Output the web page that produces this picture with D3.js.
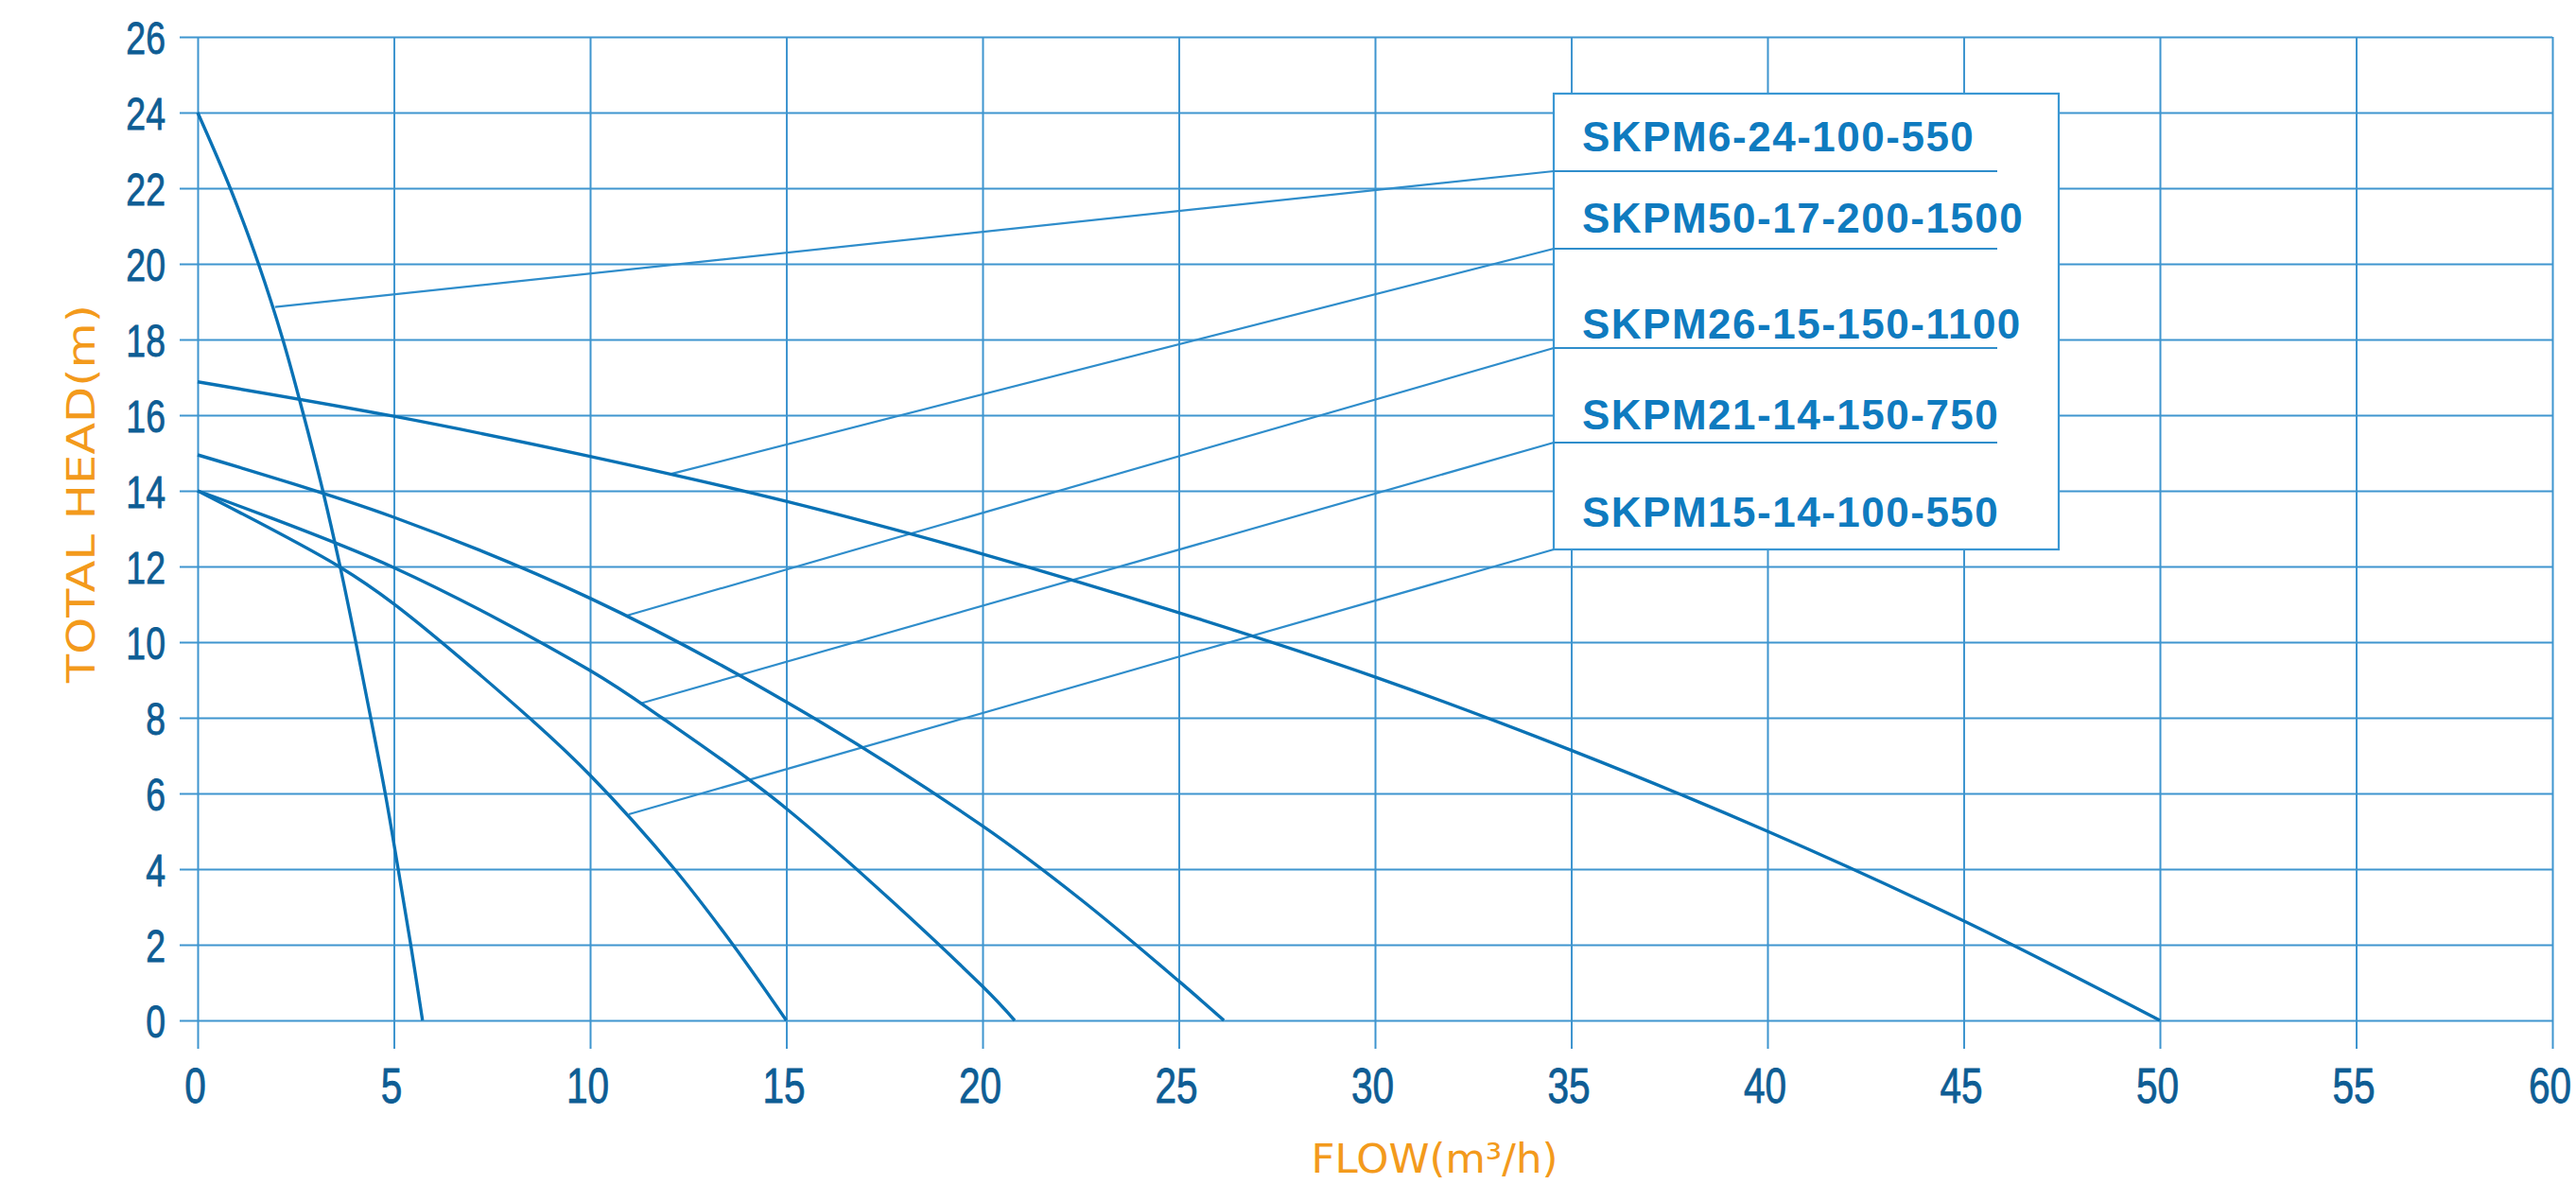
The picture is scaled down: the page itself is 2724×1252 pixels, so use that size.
<!DOCTYPE html>
<html>
<head>
<meta charset="utf-8">
<script src="https://cdn.jsdelivr.net/npm/d3@7"></script>
<style>
  html, body { margin: 0; padding: 0; background: #fff; }
  svg { display: block; }
</style>
</head>
<body>
<script>
// pump curves: [flow m3/h, head m]
var skpm6 = [[0, 24], [0.83, 22], [1.55, 20], [2.17, 18], [2.7, 16], [3.19, 14], [3.63, 12], [4.03, 10], [4.41, 8], [4.78, 6], [5.11, 4], [5.43, 2], [5.73, 0]];
var skpm50 = [[0, 16.88], [5, 15.97], [10, 14.91], [15, 13.72], [20, 12.33], [25, 10.78], [30, 9.08], [35, 7.14], [40, 5.0], [45, 2.63], [50, 0]];
var skpm26 = [[0, 14.95], [5, 13.3], [10, 11.16], [15, 8.42], [20, 5.14], [22.5, 3.2], [25, 1.04], [26.15, 0]];
var skpm21 = [[0, 14], [5, 11.97], [10, 9.25], [11.83, 8], [15, 5.6], [20, 0.9], [20.82, 0]];
var skpm15 = [[0, 14], [3.6, 12], [5, 11.01], [8.45, 8], [10, 6.48], [12.15, 4], [13.64, 2], [15, 0]];

var seriesNames = ['SKPM6-24-100-550', 'SKPM50-17-200-1500', 'SKPM26-15-150-1100', 'SKPM21-14-150-750', 'SKPM15-14-100-550'];
var seriesData = [skpm6, skpm50, skpm26, skpm21, skpm15];
// where each label's leader line touches its curve
var leaderStarts = [[1.97, 18.86], [12.04, 14.44], [10.93, 10.7], [11.29, 8.38], [10.99, 5.45]];

var xTicks = [0, 5, 10, 15, 20, 25, 30, 35, 40, 45, 50, 55, 60];
var yTicks = [0, 2, 4, 6, 8, 10, 12, 14, 16, 18, 20, 22, 24, 26];
var xTitle = 'FLOW(m³/h)';
var yTitle = 'TOTAL HEAD(m)';

(function () {
  var W = 2724, H = 1252;
  var pLeft = 209, pRight = 2699, pTop = 39, pBottom = 1079;
  var squeeze = 0.78; // tick font in the picture is a narrow face

  var gridColor = '#3f95cf';
  var curveColor = '#0a72b5';
  var tickColor = '#0e5d94';
  var orange = '#f39a1c';

  var svg = d3.select('body').append('svg').attr('width', W).attr('height', H);

  var x = d3.scaleLinear().domain([0, 60]).range([pLeft, pRight]);
  var y = d3.scaleLinear().domain([0, 26]).range([pBottom, pTop]);

  // vertical grid + x labels
  var xAxis = svg.append('g')
    .attr('transform', 'translate(0,' + (pBottom + 30) + ')')
    .call(d3.axisBottom(x).tickValues(xTicks).tickSize(-(pBottom + 30 - pTop)).tickPadding(0));
  xAxis.select('.domain').remove();
  xAxis.selectAll('line').attr('stroke', gridColor).attr('stroke-width', 2);
  xAxis.selectAll('text')
    .attr('y', 57).attr('dy', null).attr('x', -3 / squeeze)
    .attr('transform', 'scale(' + squeeze + ',1)')
    .attr('fill', tickColor)
    .attr('stroke', tickColor).attr('stroke-width', 0.8)
    .style('font-family', '"Liberation Sans", Arial, sans-serif')
    .style('font-size', '52px');

  // horizontal grid + y labels
  var yAxis = svg.append('g')
    .attr('transform', 'translate(190,0)')
    .call(d3.axisLeft(y).tickValues(yTicks).tickSize(-(pRight - 190)).tickPadding(15));
  yAxis.select('.domain').remove();
  yAxis.selectAll('line').attr('stroke', gridColor).attr('stroke-width', 2.2);
  yAxis.selectAll('text')
    .attr('x', -15 / squeeze)
    .attr('dy', '0.36em')
    .attr('transform', 'scale(' + squeeze + ',1)')
    .attr('fill', tickColor)
    .attr('stroke', tickColor).attr('stroke-width', 0.8)
    .style('font-family', '"Liberation Sans", Arial, sans-serif')
    .style('font-size', '48px');

  // legend box (drawn over the grid)
  var boxX = 1643, boxY = 99, boxW = 534, boxH = 482;
  var underlineY = [181, 263, 368, 468, 581];
  var labelY = [160, 246, 358, 454, 557];

  svg.append('rect')
    .attr('x', boxX).attr('y', boxY).attr('width', boxW).attr('height', boxH)
    .attr('fill', '#fff').attr('stroke', '#3a97d3').attr('stroke-width', 2.2);

  // leader lines from curve to label
  svg.selectAll('.leader')
    .data(leaderStarts)
    .enter()
    .append('line')
    .attr('class', 'leader')
    .attr('x1', function (d) { return x(d[0]); })
    .attr('y1', function (d) { return y(d[1]); })
    .attr('x2', boxX)
    .attr('y2', function (d, i) { return underlineY[i]; })
    .attr('stroke', '#2f8dcb')
    .attr('stroke-width', 2.2);

  svg.selectAll('.underline')
    .data(seriesNames.slice(0, 4))
    .enter()
    .append('line')
    .attr('class', 'underline')
    .attr('x1', boxX).attr('x2', 2112)
    .attr('y1', function (d, i) { return underlineY[i]; })
    .attr('y2', function (d, i) { return underlineY[i]; })
    .attr('stroke', '#2f8dcb')
    .attr('stroke-width', 2.2);

  svg.selectAll('.legend')
    .data(seriesNames)
    .enter()
    .append('text')
    .attr('class', 'legend')
    .attr('x', 1673)
    .attr('y', function (d, i) { return labelY[i]; })
    .attr('fill', '#0f7bbf')
    .style('font-family', '"Liberation Sans", Arial, sans-serif')
    .style('font-weight', 'bold')
    .style('font-size', '44px')
    .style('letter-spacing', '1.5px')
    .text(function (d) { return d; });

  // curves
  var line = d3.line()
    .x(function (d) { return x(d[0]); })
    .y(function (d) { return y(d[1]); })
    .curve(d3.curveCatmullRom.alpha(0.5));

  svg.selectAll('.curve')
    .data(seriesData)
    .enter()
    .append('path')
    .attr('class', 'curve')
    .attr('d', line)
    .attr('fill', 'none')
    .attr('stroke', curveColor)
    .attr('stroke-width', 3.4);

  // axis titles
  svg.append('text')
    .attr('x', 1517).attr('y', 1240)
    .attr('text-anchor', 'middle')
    .attr('fill', orange)
    .attr('textLength', 261).attr('lengthAdjust', 'spacingAndGlyphs')
    .style('font-family', '"DejaVu Sans", sans-serif')
    .style('font-size', '43px')
    .text(xTitle);

  svg.append('text')
    .attr('transform', 'translate(100,522) rotate(-90)')
    .attr('text-anchor', 'middle')
    .attr('fill', orange)
    .attr('textLength', 400).attr('lengthAdjust', 'spacingAndGlyphs')
    .style('font-family', '"DejaVu Sans", sans-serif')
    .style('font-size', '40px')
    .text(yTitle);
})();
</script>
</body>
</html>
